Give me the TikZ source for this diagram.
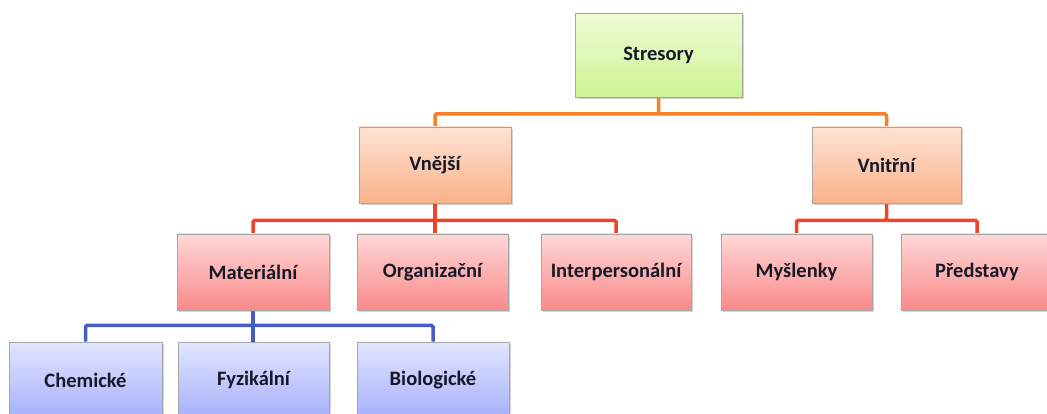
\documentclass[tikz,border=0pt]{standalone}
\usepackage{fontspec}
\setmainfont{Carlito}
\usetikzlibrary{positioning,calc,shadows,backgrounds}
\definecolor{lnorange}{RGB}{248,128,40}
\definecolor{lnred}{RGB}{238,68,40}
\definecolor{lnblue}{RGB}{72,92,200}
\definecolor{txtdark}{RGB}{22,24,40}
\tikzset{
	box/.style = {draw=black!35, line width=0.8pt, minimum width=152pt, minimum height=76pt,
		font=\fontsize{20.5}{24}\selectfont\bfseries, text=txtdark,
		drop shadow={shadow xshift=1.5pt, shadow yshift=-2pt, opacity=0.35}},
	rootbox/.style = {box, top color={rgb,255:red,240;green,251;blue,214}, bottom color={rgb,255:red,204;green,244;blue,146}},
	midbox/.style = {box, top color={rgb,255:red,255;green,226;blue,212}, bottom color={rgb,255:red,250;green,178;blue,138}},
	lowbox/.style = {box, top color={rgb,255:red,255;green,216;blue,216}, bottom color={rgb,255:red,250;green,138;blue,138}},
	leafbox/.style = {box, top color={rgb,255:red,226;green,229;blue,255}, bottom color={rgb,255:red,166;green,176;blue,250}},
	link/.style = {line width=3.5pt, rounded corners=1.5pt}
}
\begin{document}
\begin{tikzpicture}[x=1pt, y=-1pt]
		\useasboundingbox (0,0) rectangle (1047,414);
		\node[rootbox, minimum width=167pt, minimum height=84pt] (stres) at (658.5,55.5) {Stresory};
		\node[midbox] (vnej) at (435,165) {Vnější};
		\node[midbox, minimum width=149pt] (vnit) at (886.5,165) {Vnitřní};
		\node[lowbox] (mat) at (253,272) {Materiální};
		\node[lowbox, minimum width=151pt] (org) at (432.5,272) {Organizační};
		\node[lowbox, minimum width=150pt] (inter) at (616,272) {Interpersonální};
		\node[lowbox, minimum width=151pt] (mysl) at (796.5,272) {Myšlenky};
		\node[lowbox] (pred) at (977,272) {Představy};
		\node[leafbox, minimum width=153pt] (chem) at (85.5,380) {Chemické};
		\node[leafbox, minimum width=151pt] (fyz) at (253.5,380) {Fyzikální};
		\node[leafbox] (bio) at (433,380) {Biologické};

		% connectors behind the boxes
		\begin{scope}[on background layer]
			\draw[link, lnorange] (stres.south) -- ++(0,16) coordinate (o1) -| (vnej.north);
			\draw[link, lnorange] (o1) -| (vnit.north);
			\draw[link, lnred] (vnej.south) -- ++(0,17) coordinate (r1) -| (mat.north);
			\draw[link, lnred] (r1) -| (inter.north);
			\draw[link, lnred] (vnej.south) -- (vnej.south |- org.north);
			\draw[link, lnred] (vnit.south) -- ++(0,17) coordinate (r2) -| (mysl.north);
			\draw[link, lnred] (r2) -| (pred.north);
			\draw[link, lnblue] (mat.south) -- ++(0,15) coordinate (b1) -| (chem.north);
			\draw[link, lnblue] (b1) -| (bio.north);
			\draw[link, lnblue] (mat.south) -- (mat.south |- fyz.north);
		\end{scope}
\end{tikzpicture}
\end{document}
